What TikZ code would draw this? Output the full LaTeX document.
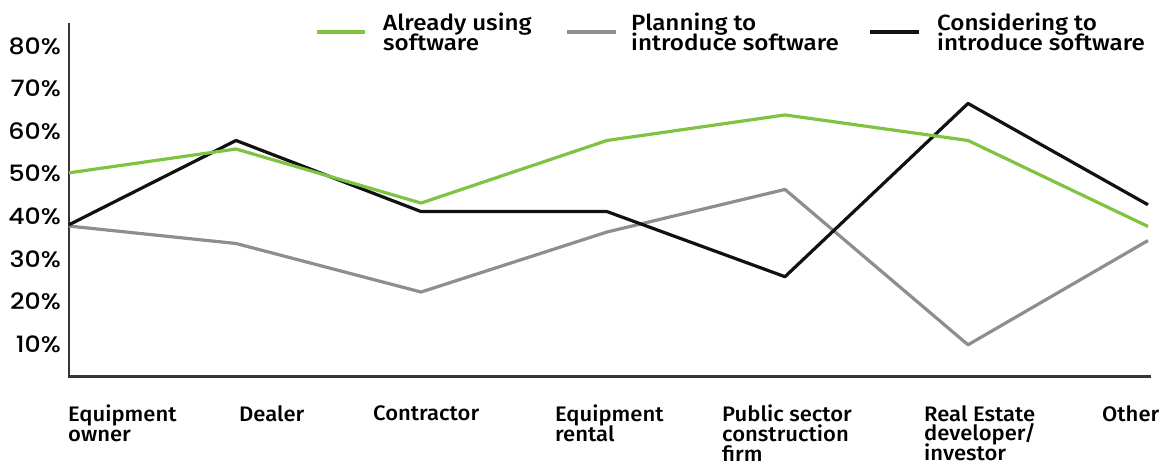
\documentclass[tikz,border=0pt]{standalone}
\usepackage{fontspec}
\setmainfont{Fira Sans Medium}
\newfontfamily\catfont[FakeStretch=1.05]{Fira Sans Medium}
\newfontfamily\legfont[FakeStretch=1.1]{Fira Sans Medium}
\newfontfamily\pctfont[FakeStretch=1.12]{Poppins Medium}
\usetikzlibrary{positioning}

\definecolor{usegreen}{HTML}{80C342}
\definecolor{plangray}{HTML}{8E8E8E}
\definecolor{considerblack}{HTML}{111111}
\definecolor{axisdark}{HTML}{3A3236}

\newcommand{\tightlines}{\lineskiplimit=-8pt\relax}

\tikzset{
  series/.style={line width=3.2pt, line join=round},
  catlabel/.style={anchor=north west, inner sep=0pt, align=left,
    font=\catfont\fontsize{21}{19.6}\selectfont\tightlines},
  pctlabel/.style={anchor=east, inner sep=0pt, font=\pctfont\fontsize{22.5}{22}\selectfont},
  legendtext/.style={anchor=west, inner sep=0pt, align=left,
    font=\legfont\fontsize{22}{20.5}\selectfont\tightlines}
}

\begin{document}
\begin{tikzpicture}[x=1pt, y=4.257pt]
    \useasboundingbox (0,-18.65) rectangle (1168,90.8);

    % Axes
    \draw[axisdark, line width=2.6pt] (69,85.5) -- (69,2.3) -- (1151,2.3);

    % Percent labels
    \foreach \v in {10,20,...,80}
        \node[pctlabel] (pct\v) at (61,\v) {\v\%};

    % Categories
    \node[catlabel] (owner) at (68,-4.35) {Equipment\\owner};
    \node[catlabel] (dealer) at (239,-4.35) {Dealer};
    \node[catlabel] (contractor) at (373,-4.35) {Contractor};
    \node[catlabel] (rental) at (555,-4.35) {Equipment\\rental};
    \node[catlabel] (public) at (722,-4.35) {Public sector\\construction\\firm};
    \node[catlabel] (estate) at (924,-4.35) {Real Estate\\developer/\\investor};
    \node[catlabel] (other) at (1102,-4.35) {Other};

    % Data points
    \foreach \name/\x/\g/\p/\c in {a/69/50.2/37.7/38.0, b/236/55.8/33.6/57.8,
        c/421/43.1/22.2/41.1, d/607/57.8/36.3/41.1, e/785/63.8/46.3/25.8,
        f/968/57.8/9.8/66.5, g/1148/37.6/34.3/42.7}
    {
        \coordinate (g\name) at (\x,\g);
        \coordinate (p\name) at (\x,\p);
        \coordinate (c\name) at (\x,\c);
    }

    % Series
    \draw[series, plangray] (pa) -- (pb) -- (pc) -- (pd) -- (pe) -- (pf) -- (pg);
    \draw[series, considerblack] (ca) -- (cb) -- (cc) -- (cd) -- (ce) -- (cf) -- (cg);
    \draw[series, usegreen] (ga) -- (gb) -- (gc) -- (gd) -- (ge) -- (gf) -- (gg);

    % Legend
    \coordinate (usekeyA) at (317,83.3);
    \coordinate (usekeyB) at (365,83.3);
    \coordinate (plankeyA) at (567,83.3);
    \coordinate (plankeyB) at (616,83.3);
    \coordinate (conkeyA) at (870,83.3);
    \coordinate (conkeyB) at (919,83.3);
    \draw[series, usegreen] (usekeyA) -- (usekeyB);
    \draw[series, plangray] (plankeyA) -- (plankeyB);
    \draw[series, considerblack] (conkeyA) -- (conkeyB);
    \node[legendtext] (uselabel) at (383,83.3) {Already using\\software};
    \node[legendtext] (planlabel) at (631,83.3) {Planning to\\introduce software};
    \node[legendtext] (conlabel) at (937,83.3) {Considering to\\introduce software};
\end{tikzpicture}
\end{document}
